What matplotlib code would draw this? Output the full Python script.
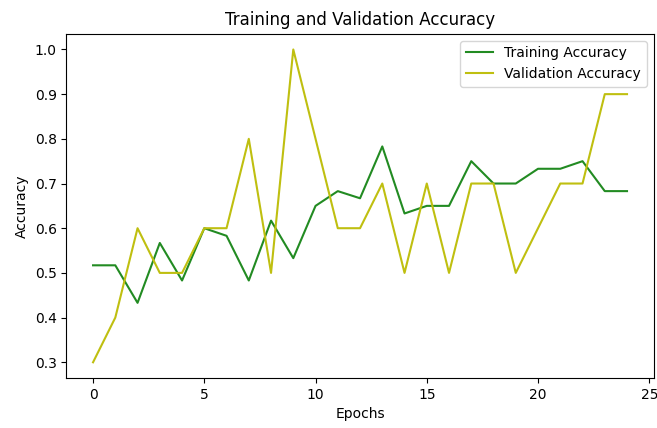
import matplotlib.pyplot as plt
import numpy as np

# accuracy per epoch
epochs = np.arange(25)
train_acc = [0.517, 0.517, 0.433, 0.567, 0.483, 0.600, 0.583, 0.483, 0.617, 0.533,
             0.650, 0.683, 0.667, 0.783, 0.633, 0.650, 0.650, 0.750, 0.700, 0.700,
             0.733, 0.733, 0.750, 0.683, 0.683]
val_acc = [0.3, 0.4, 0.6, 0.5, 0.5, 0.6, 0.6, 0.8, 0.5, 1.0,
           0.8, 0.6, 0.6, 0.7, 0.5, 0.7, 0.5, 0.7, 0.7, 0.5,
           0.6, 0.7, 0.7, 0.9, 0.9]

plt.figure(figsize=(6.57, 4.28), dpi=100)
plt.plot(epochs, train_acc, color='#228b22', label='Training Accuracy')
plt.plot(epochs, val_acc, color='#bfbf10', label='Validation Accuracy')
plt.title('Training and Validation Accuracy')
plt.xlabel('Epochs')
plt.ylabel('Accuracy')
plt.legend(loc='upper right')
plt.subplots_adjust(left=0.101, right=0.995, top=0.921, bottom=0.117)
plt.savefig('out.png')
